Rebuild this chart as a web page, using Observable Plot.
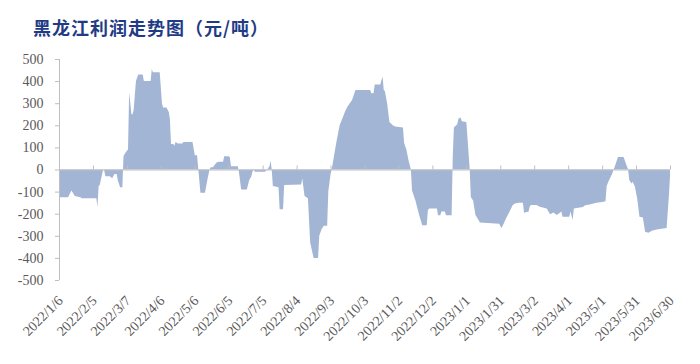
<!DOCTYPE html>
<html>
<head>
<meta charset="utf-8">
<script src="https://cdn.jsdelivr.net/npm/d3@7"></script>
<script src="https://cdn.jsdelivr.net/npm/@observablehq/plot@0.6"></script>
<style>
  html, body { margin: 0; padding: 0; background: #fff; }
  #wrap { width: 700px; height: 364px; overflow: hidden; }
  #title {
    height: 45px; box-sizing: border-box; padding: 17px 0 0 33px;
    font-family: "Noto Sans CJK SC", sans-serif; font-weight: 700;
    font-size: 18px; line-height: 20px; letter-spacing: 1px; color: #1f3b85;
  }
</style>
</head>
<body>
<div id="wrap">
  <div id="title">黑龙江利润走势图（元/吨）</div>
  <div id="chart"></div>
</div>
<script>
const dates = [
"2022-01-06","2022-01-14","2022-01-17","2022-01-20","2022-01-25","2022-01-26","2022-02-08","2022-02-09","2022-02-10","2022-02-11",
"2022-02-14","2022-02-15","2022-02-16","2022-02-20","2022-02-22","2022-02-24","2022-02-26","2022-02-27","2022-03-01","2022-03-03",
"2022-03-04","2022-03-05","2022-03-07","2022-03-08","2022-03-09","2022-03-11","2022-03-12","2022-03-13","2022-03-15","2022-03-17",
"2022-03-21","2022-03-22","2022-03-28","2022-03-29","2022-03-30","2022-04-05","2022-04-07","2022-04-08","2022-04-11","2022-04-13",
"2022-04-14","2022-04-15","2022-04-17","2022-04-18","2022-04-19","2022-04-21","2022-04-25","2022-04-26","2022-05-04","2022-05-06",
"2022-05-08","2022-05-11","2022-05-15","2022-05-17","2022-05-19","2022-05-20","2022-05-22","2022-05-25","2022-05-27","2022-05-31",
"2022-06-01","2022-06-05","2022-06-06","2022-06-07","2022-06-13","2022-06-14","2022-06-16","2022-06-21","2022-06-23","2022-06-25",
"2022-06-26","2022-06-27","2022-06-28","2022-07-07","2022-07-09","2022-07-11","2022-07-12","2022-07-13","2022-07-14","2022-07-19",
"2022-07-20","2022-07-23","2022-07-24","2022-08-08","2022-08-09","2022-08-11","2022-08-14","2022-08-16","2022-08-19","2022-08-23",
"2022-08-24","2022-08-26","2022-08-28","2022-08-31","2022-09-01","2022-09-03","2022-09-04","2022-09-08","2022-09-11","2022-09-13",
"2022-09-16","2022-09-18","2022-09-22","2022-09-25","2022-10-08","2022-10-09","2022-10-11","2022-10-12","2022-10-17","2022-10-18",
"2022-10-19","2022-10-20","2022-10-21","2022-10-23","2022-10-25","2022-10-28","2022-10-30","2022-11-06","2022-11-07","2022-11-09",
"2022-11-11","2022-11-13","2022-11-14","2022-11-17","2022-11-20","2022-11-23","2022-11-27","2022-11-28","2022-11-29","2022-12-06",
"2022-12-07","2022-12-09","2022-12-10","2022-12-13","2022-12-14","2022-12-19","2022-12-20","2022-12-21","2022-12-24","2022-12-25",
"2022-12-27","2022-12-28","2023-01-01","2023-01-04","2023-01-05","2023-01-07","2023-01-09","2023-01-13","2023-01-30","2023-02-01",
"2023-02-03","2023-02-05","2023-02-08","2023-02-11","2023-02-13","2023-02-16","2023-02-20","2023-02-21","2023-02-25","2023-02-26",
"2023-02-27","2023-03-04","2023-03-07","2023-03-13","2023-03-16","2023-03-19","2023-03-22","2023-03-26","2023-03-27","2023-04-02",
"2023-04-03","2023-04-05","2023-04-06","2023-04-14","2023-04-16","2023-04-21","2023-04-26","2023-05-01","2023-05-04","2023-05-05",
"2023-05-07","2023-05-10","2023-05-11","2023-05-12","2023-05-15","2023-05-20","2023-05-22","2023-05-24","2023-05-25","2023-05-27",
"2023-05-28","2023-05-30","2023-06-01","2023-06-03","2023-06-06","2023-06-08","2023-06-11","2023-06-14","2023-06-18","2023-06-27",
"2023-06-29","2023-06-30"
];
const profits = [
-125,-125,-95,-120,-125,-130,-130,-170,-75,-70,
0,-5,-30,-30,-40,-20,-20,-50,-80,-80,
60,70,85,90,350,250,250,270,400,430,
430,400,400,455,440,440,300,280,280,260,
230,115,115,108,125,118,118,125,125,65,
65,-105,-105,-50,0,10,10,30,35,35,
60,60,55,15,15,-10,-90,-90,-50,-30,
-10,5,-10,-10,0,15,40,0,-75,-80,
-180,-180,-70,-68,-40,-120,-130,-330,-400,-400,
-300,-270,-255,-255,-100,-20,0,120,200,225,
265,285,315,360,360,345,345,385,385,405,
420,360,355,300,215,200,195,190,120,90,
40,0,-95,-140,-200,-252,-252,-184,-176,-176,
-207,-207,-190,-190,-207,-207,60,190,205,230,
235,218,215,0,-125,-140,-205,-240,-245,-265,
-245,-222,-192,-161,-154,-151,-151,-196,-190,-168,
-161,-161,-168,-176,-202,-195,-206,-190,-214,-214,
-190,-229,-176,-170,-162,-157,-151,-147,-144,-75,
-50,-18,0,10,57,57,27,0,-48,-63,
-55,-78,-131,-214,-217,-282,-286,-277,-271,-265,
-120,-30
];
const tickLabels = ["2022/1/6","2022/2/5","2022/3/7","2022/4/6","2022/5/6","2022/6/5","2022/7/5","2022/8/4","2022/9/3",
  "2022/10/3","2022/11/2","2022/12/2","2023/1/1","2023/1/31","2023/3/2","2023/4/1","2023/5/1","2023/5/31","2023/6/30"];
const yTicks = [-500,-400,-300,-200,-100,0,100,200,300,400,500];

const parseLabel = s => { const [y,m,d] = s.split("/").map(Number); return new Date(Date.UTC(y, m - 1, d)); };
const data = dates.map((d, i) => ({date: new Date(d + "T00:00:00Z"), value: profits[i]}));
const ticks = tickLabels.map(s => ({date: parseLabel(s), label: s}));
const x0 = ticks[0].date, x1 = ticks[ticks.length - 1].date;

const chart = Plot.plot({
  width: 700,
  height: 319,
  marginLeft: 59,
  marginRight: 30,
  marginTop: 14,
  marginBottom: 84,
  style: {fontFamily: "'Liberation Serif', 'Times New Roman', serif", fontSize: "14px", color: "#595959", background: "#fff"},
  x: {type: "utc", domain: [x0, x1], axis: null},
  y: {domain: [-500, 500]},
  marks: [
    Plot.areaY(data, {x: "date", y: "value", fill: "#a3b5d4", curve: "linear"}),
    Plot.ruleY([0], {stroke: "#bfbfbf", strokeWidth: 1}),
    Plot.ruleX(ticks, {x: "date", y1: 0, y2: 18, stroke: "#bfbfbf"}),
    Plot.ruleX([x0], {stroke: "#bfbfbf", y1: -500, y2: 500}),
    Plot.axisY({ticks: yTicks, tickSize: 4, tickPadding: 12, tickFormat: d => String(d), stroke: "#bfbfbf", fill: "#595959", fontSize: 14, label: null}),
    Plot.text(ticks, {x: "date", text: "label", frameAnchor: "bottom", rotate: -45, textAnchor: "end", lineAnchor: "middle", dy: 18, dx: 1, fill: "#595959", fontSize: 14})
  ]
});
document.getElementById("chart").appendChild(chart);
</script>
</body>
</html>
